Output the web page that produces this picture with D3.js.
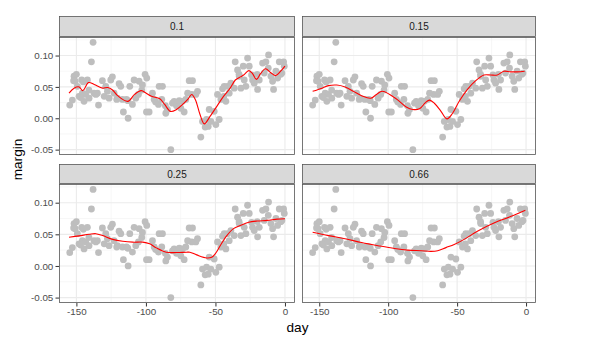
<!DOCTYPE html>
<html><head><meta charset="utf-8">
<script src="https://cdn.jsdelivr.net/npm/d3@7"></script>
<style>body{margin:0;background:#fff}svg{display:block;font-family:"Liberation Sans",Arial,sans-serif}</style>
</head><body><div id="chart"></div>
<script>
// ---- data ----
const days = [-154.8,-152.9,-151.7,-150,-150.9,-149.3,-148.1,-146.2,-145.7,-144.5,-143.3,-142.1,-140.9,-139.2,-138,-137.3,-134.9,-134.1,-131.3,-128.9,-127.7,-126.5,-125.3,-124.1,-122.9,-120.5,-119.3,-118.1,-116.9,-116.2,-114,-112.8,-111.6,-109.7,-108.5,-107.3,-105.4,-104.9,-102.5,-100.6,-99.4,-99.6,-97.7,-95.3,-94.1,-91,-90.5,-88.1,-88.6,-85.7,-84.5,-82.1,-80.9,-79.7,-77.3,-74.9,-73.7,-72.5,-71.3,-68.9,-66.5,-67,-64.1,-62.9,-60.5,-59.3,-57.4,-56.4,-55.2,-54.5,-53.3,-50.9,-49.7,-48.5,-47.3,-46.1,-44.9,-43.7,-42.5,-41.3,-40.1,-38.9,-36.5,-35.8,-34.1,-32.9,-31.7,-30,-29.3,-28.1,-26.9,-25.7,-24,-23.3,-22.1,-19.7,-18.5,-16.1,-14.9,-13.7,-11.8,-10.1,-8.9,-8.2,-6.5,-5.3,-4.1,-2.2,-1,-0.5,-152,-147,-145,-141,-136,-130,-121,-113,-103,-93,-86,-78,-76,-70,-44,-33,-20,-12,-3];
const margins = [0.021,0.029,0.067,0.070,0.059,0.051,0.035,0.061,0.040,0.027,0.038,0.061,0.032,0.090,0.121,0.040,0.040,0.021,0.060,0.051,0.043,0.032,0.061,0.066,0.040,0.032,0.055,0.051,0.030,0.010,0.030,0.000,0.051,0.022,0.061,0.032,0.038,0.059,0.053,0.070,0.064,0.010,0.010,0.040,0.030,0.022,0.051,0.051,0.030,0.008,0.014,-0.050,0.024,0.027,0.024,0.016,0.027,0.010,0.030,0.060,0.060,0.038,0.038,0.043,-0.030,-0.005,-0.014,-0.002,-0.013,0.014,-0.005,0.011,-0.010,0.038,-0.002,0.030,0.047,0.051,0.027,0.051,0.040,0.056,0.048,0.090,0.077,0.067,0.048,0.083,0.061,0.051,0.096,0.083,0.069,0.061,0.056,0.046,0.061,0.088,0.072,0.090,0.101,0.067,0.059,0.046,0.075,0.064,0.090,0.072,0.090,0.083,0.060,0.033,0.058,0.045,0.038,0.035,0.030,0.028,0.045,0.026,0.020,0.020,0.028,0.040,0.035,0.070,0.070,0.080,0.070];

const spans = ["0.1","0.15","0.25","0.66"];
// smoothed curves, one per span
const smoothDay = {
  "0.1":  [-155.3,-151.7,-148,-145.7,-144.5,-141.3,-137.2,-131.2,-127.5,-124,-120.3,-113,-108.2,-103.4,-99.8,-96,-90,-86.5,-82.4,-78,-73.2,-69.6,-67.1,-64.5,-61.1,-58,-53.9,-49,-44.2,-39.4,-35.7,-32,-29.7,-26,-23.6,-20.5,-17.6,-14,-10.4,-6.8,-3.1,0],
  "0.15": [-154.8,-148,-143.3,-137.3,-131.3,-125.3,-119.3,-112.6,-108.5,-104.4,-98.9,-92.9,-86.9,-82.1,-77.3,-73,-70.1,-66.5,-61.7,-57.4,-53.3,-48.5,-42.5,-36.5,-30.5,-25.7,-20.9,-16.1,-11.3,-6.5,-1],
  "0.25": [-155.3,-148,-140.8,-136,-131.2,-123.9,-116.7,-109.4,-102.2,-97.3,-92.5,-85.3,-78,-70.8,-68.4,-63.5,-56.3,-52.7,-50.2,-46.6,-41.8,-37,-32.1,-26.1,-20,-12.8,-5.6,0],
  "0.66": [-154.8,-143.3,-131.3,-119.3,-107.3,-95.3,-85.7,-76.1,-68.9,-64.1,-58.1,-52.1,-44.9,-35.3,-23.3,-11.3,-0.5]
};
const smoothMargin = {
  "0.1":  [0.040,0.048,0.050,0.044,0.046,0.057,0.054,0.048,0.049,0.045,0.036,0.027,0.038,0.044,0.040,0.035,0.031,0.022,0.011,0.014,0.023,0.031,0.038,0.030,0.006,-0.009,0.003,0.019,0.035,0.048,0.061,0.066,0.069,0.076,0.072,0.062,0.071,0.079,0.073,0.068,0.075,0.083],
  "0.15": [0.043,0.048,0.052,0.053,0.050,0.043,0.036,0.032,0.038,0.043,0.038,0.029,0.018,0.014,0.015,0.025,0.029,0.024,0.011,-0.001,0.008,0.027,0.046,0.060,0.069,0.069,0.069,0.075,0.074,0.074,0.075],
  "0.25": [0.0455,0.0476,0.050,0.051,0.048,0.042,0.039,0.0376,0.0376,0.035,0.0286,0.0217,0.0212,0.0217,0.0217,0.0175,0.0127,0.0138,0.019,0.032,0.048,0.059,0.064,0.069,0.071,0.072,0.074,0.0746],
  "0.66": [0.0534,0.048,0.043,0.037,0.032,0.0275,0.025,0.024,0.023,0.024,0.029,0.034,0.042,0.055,0.068,0.078,0.088]
};
const xTicks = [-150,-100,-50,0];
const yTicks = [-0.05,0.00,0.05,0.10];

// ---- layout ----
const W = 605, H = 342;
const cols = [[59,295],[302,536]];
const rows = [{s:16,t:37,b:155},{s:164,t:184,b:303}];
const FONT = "Liberation Sans, Arial, sans-serif";

const svg = d3.select("#chart").append("svg").attr("width",W).attr("height",H);
svg.append("rect").attr("width",W).attr("height",H).attr("fill","#fff");

const pts = days.map((d,i)=>({d, m: margins[i]}));
const xExt = d3.extent(days), yExt = d3.extent(margins);
const xPad = (xExt[1]-xExt[0])*0.05, yPad = (yExt[1]-yExt[0])*0.05;

spans.forEach((sp, k) => {
  const c = cols[k%2], r = rows[Math.floor(k/2)];
  const x = d3.scaleLinear().domain([xExt[0]-xPad, xExt[1]+xPad]).range([c[0], c[1]]);
  const y = d3.scaleLinear().domain([yExt[0]-yPad, yExt[1]+yPad]).range([r.b, r.t]);
  const g = svg.append("g");
  g.append("rect").attr("x",c[0]).attr("y",r.t).attr("width",c[1]-c[0]).attr("height",r.b-r.t).attr("fill","#fff");
  const xMinor = [-175,-125,-75,-25].filter(v=>x(v)>c[0]&&x(v)<c[1]);
  const yMinor = [-0.075,-0.025,0.025,0.075,0.125].filter(v=>y(v)>r.t&&y(v)<r.b);
  g.selectAll(null).data(xMinor).enter().append("line")
    .attr("x1",d=>x(d)).attr("x2",d=>x(d)).attr("y1",r.t).attr("y2",r.b).attr("stroke","#F2F2F2").attr("stroke-width",0.6);
  g.selectAll(null).data(yMinor).enter().append("line")
    .attr("y1",d=>y(d)).attr("y2",d=>y(d)).attr("x1",c[0]).attr("x2",c[1]).attr("stroke","#F2F2F2").attr("stroke-width",0.6);
  g.selectAll(null).data(xTicks).enter().append("line")
    .attr("x1",d=>x(d)).attr("x2",d=>x(d)).attr("y1",r.t).attr("y2",r.b).attr("stroke","#EBEBEB").attr("stroke-width",1.1);
  g.selectAll(null).data(yTicks).enter().append("line")
    .attr("y1",d=>y(d)).attr("y2",d=>y(d)).attr("x1",c[0]).attr("x2",c[1]).attr("stroke","#EBEBEB").attr("stroke-width",1.1);
  g.selectAll(null).data(pts).enter().append("circle")
    .attr("cx",d=>x(d.d)).attr("cy",d=>y(d.m)).attr("r",3.4).attr("fill","#BEBEBE");
  const line = d3.line().x(d=>x(d[0])).y(d=>y(d[1])).curve(d3.curveCatmullRom);
  g.append("path").datum(smoothDay[sp].map((d,i)=>[d, smoothMargin[sp][i]]))
    .attr("d",line).attr("fill","none").attr("stroke","#FF0000").attr("stroke-width",1.1);
  g.append("rect").attr("x",c[0]+0.5).attr("y",r.t+0.5).attr("width",c[1]-c[0]-1).attr("height",r.b-r.t-1)
    .attr("fill","none").attr("stroke","#555555").attr("stroke-width",0.8);
  g.append("rect").attr("x",c[0]+0.5).attr("y",r.s+0.5).attr("width",c[1]-c[0]-1).attr("height",r.t-r.s-1)
    .attr("fill","#D9D9D9").attr("stroke","#555555").attr("stroke-width",0.8);
  g.append("text").attr("x",(c[0]+c[1])/2).attr("y",(r.s+r.t)/2).attr("dy","0.36em")
    .attr("text-anchor","middle").attr("font-size",10).attr("fill","#1A1A1A").text(sp);
  if (k%2===0) {
    const ay = d3.axisLeft(y).tickValues(yTicks).tickFormat(d3.format(".2f")).tickSize(3.5).tickPadding(2.2);
    const ga = svg.append("g").attr("transform",`translate(${c[0]},0)`).call(ay);
    ga.select(".domain").remove();
    ga.selectAll("line").attr("stroke","#333333");
    ga.selectAll("text").attr("font-size",9.8).attr("fill","#4D4D4D").attr("font-family",FONT)
      .text(d=>d3.format(".2f")(d).replace("\u2212","-"));
  }
  if (k>=2) {
    const ax = d3.axisBottom(x).tickValues(xTicks).tickFormat(d=>String(d)).tickSize(3.5).tickPadding(2);
    const ga = svg.append("g").attr("transform",`translate(0,${r.b})`).call(ax);
    ga.select(".domain").remove();
    ga.selectAll("line").attr("stroke","#333333");
    ga.selectAll("text").attr("font-size",9.8).attr("fill","#4D4D4D").attr("font-family",FONT);
  }
});

svg.append("text").attr("x",(cols[0][0]+cols[1][1])/2).attr("y",332).attr("text-anchor","middle")
  .attr("font-size",13.6).attr("fill","#000").text("day");
svg.append("text").attr("transform",`translate(21.5,${(rows[0].s+rows[1].b)/2}) rotate(-90)`).attr("text-anchor","middle")
  .attr("font-size",13.6).attr("fill","#000").text("margin");
</script></body></html>
